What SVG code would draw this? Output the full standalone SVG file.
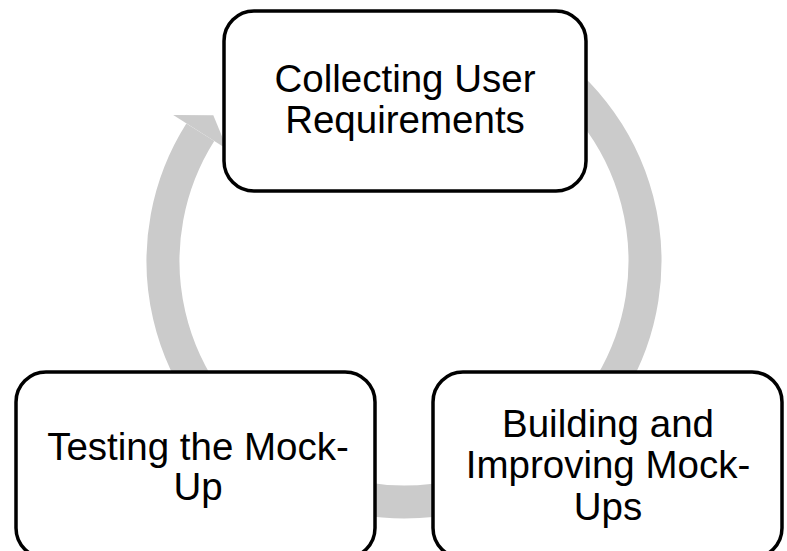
<svg xmlns="http://www.w3.org/2000/svg" width="787" height="551" viewBox="0 0 787 551">
<style>
.box{fill:#fff;stroke:#000;stroke-width:3.5}
.lbl{font-family:"Liberation Sans",Arial,sans-serif;font-size:38.5px;fill:#000;text-anchor:middle}
.ring{fill:none;stroke:#CBCBCB;stroke-width:33;stroke-linecap:butt}
</style>
<rect width="787" height="551" fill="#fff"/>
<g id="connectors">
<path class="ring" d="M 524.5 52.3 A 241 241 0 1 1 200.3 132.2"/>
<polygon fill="#CBCBCB" points="173.2,115.1 213.3,115.2 227.3,149.3"/>
</g>
<g id="node-collecting">
<rect class="box" x="224" y="11" width="362" height="180" rx="30"/>
<text class="lbl" x="405" y="92">Collecting User</text>
<text class="lbl" x="405" y="133">Requirements</text>
</g>
<g id="node-building">
<rect class="box" x="433" y="372" width="349" height="186" rx="30"/>
<text class="lbl" x="608" y="437">Building and</text>
<text class="lbl" x="608" y="478">Improving Mock-</text>
<text class="lbl" x="608" y="520">Ups</text>
</g>
<g id="node-testing">
<rect class="box" x="16" y="372" width="359" height="186" rx="30"/>
<text class="lbl" x="198" y="460">Testing the Mock-</text>
<text class="lbl" x="198" y="500">Up</text>
</g>
</svg>
